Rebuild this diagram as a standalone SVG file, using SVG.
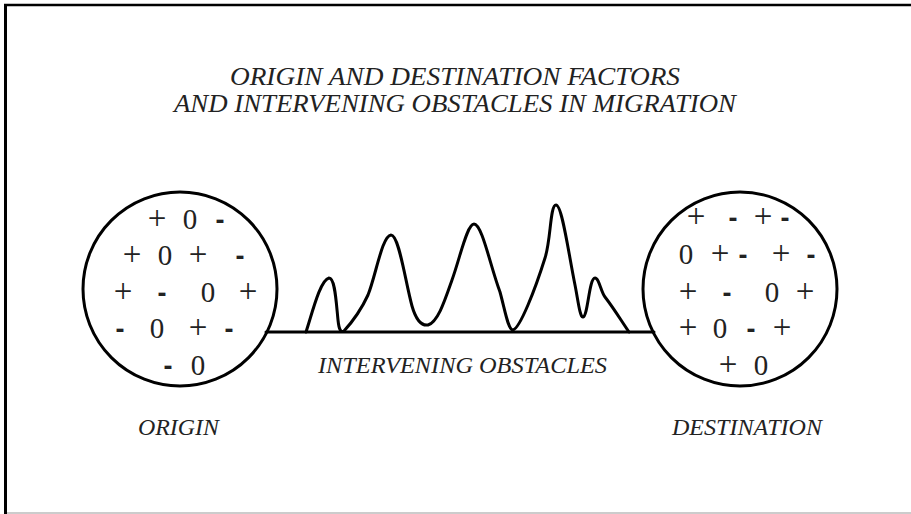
<svg xmlns="http://www.w3.org/2000/svg" width="911" height="514" viewBox="0 0 911 514">
<style>
.t{font-family:"Liberation Serif","DejaVu Serif",serif;font-style:italic;fill:#222}
.s{font-family:"Liberation Serif","DejaVu Serif",serif;font-size:29px;fill:#222;text-anchor:middle}
.p{font-size:33px}
.m{font-family:"Liberation Sans","DejaVu Sans",sans-serif;font-weight:bold;font-size:27px}
.ln{fill:none;stroke:#000;stroke-width:3;stroke-linejoin:round;stroke-linecap:round}
</style>
<rect width="911" height="514" fill="#fff"/>
<g id="frame">
<line x1="5.5" y1="4" x2="5.5" y2="514" stroke="#000" stroke-width="3"/>
<line x1="4" y1="5" x2="911" y2="5" stroke="#000" stroke-width="2.5"/>
<line x1="7" y1="513" x2="911" y2="513" stroke="#bbb" stroke-width="1.5"/>
</g>
<g id="title">
<text class="t" x="455" y="85" font-size="25" text-anchor="middle" textLength="450" lengthAdjust="spacingAndGlyphs">ORIGIN AND DESTINATION FACTORS</text>
<text class="t" x="455" y="112" font-size="25" text-anchor="middle" textLength="562" lengthAdjust="spacingAndGlyphs">AND INTERVENING OBSTACLES IN MIGRATION</text>
</g>
<g id="connectors">
<line class="ln" x1="266" y1="332" x2="654" y2="332"/>
</g>
<g id="obstacles">
<path class="ln" d="M306,332 C312,314 320,280 329,278 C335,278 336,300 338,320 C339,330 341,333 344,331 C354,320 362,308 368,295 C376,275 382,236 391,235 C399,235 405,280 412,306 C416,320 421,326 428,325 C438,322 445,300 452,280 C460,258 467,224 474,224 C482,224 490,265 500,292 C505,310 508,330 513,330 C520,328 535,290 545,258 C551,240 550,205 556,205 C562,205 568,250 575,285 C578,300 580,318 583,317 C588,316 589,278 595,278 C599,278 601,292 605,297 C615,310 622,322 629,332"/>
</g>
<g id="origin">
<circle class="ln" cx="180" cy="289" r="97"/>
<text class="s p" x="157" y="229">+</text><text class="s" x="190" y="229">0</text><text class="s m" x="220" y="229">-</text>
<text class="s p" x="132" y="265">+</text><text class="s" x="165" y="265">0</text><text class="s p" x="198" y="265">+</text><text class="s m" x="240" y="265">-</text>
<text class="s p" x="123" y="302">+</text><text class="s m" x="162" y="302">-</text><text class="s" x="208" y="302">0</text><text class="s p" x="248" y="302">+</text>
<text class="s m" x="120" y="338">-</text><text class="s" x="157" y="338">0</text><text class="s p" x="198" y="338">+</text><text class="s m" x="229" y="338">-</text>
<text class="s m" x="168" y="375">-</text><text class="s" x="198" y="375">0</text>
<text class="t" x="138" y="435" font-size="23" textLength="81" lengthAdjust="spacingAndGlyphs">ORIGIN</text>
</g>
<g id="destination">
<circle class="ln" cx="740" cy="289" r="97"/>
<text class="s p" x="696" y="227">+</text><text class="s m" x="733" y="227">-</text><text class="s p" x="763" y="227">+</text><text class="s m" x="785" y="227">-</text>
<text class="s" x="686" y="264">0</text><text class="s p" x="720" y="264">+</text><text class="s m" x="743" y="264">-</text><text class="s p" x="781" y="264">+</text><text class="s m" x="811" y="264">-</text>
<text class="s p" x="688" y="302">+</text><text class="s m" x="727" y="302">-</text><text class="s" x="772" y="302">0</text><text class="s p" x="805" y="302">+</text>
<text class="s p" x="688" y="338">+</text><text class="s" x="720" y="338">0</text><text class="s m" x="751" y="338">-</text><text class="s p" x="782" y="338">+</text>
<text class="s p" x="728" y="375">+</text><text class="s" x="761" y="375">0</text>
<text class="t" x="672" y="435" font-size="23" textLength="150" lengthAdjust="spacingAndGlyphs">DESTINATION</text>
</g>
<g id="obstacles-label">
<text class="t" x="318" y="373" font-size="23" textLength="289" lengthAdjust="spacingAndGlyphs">INTERVENING OBSTACLES</text>
</g>
</svg>
